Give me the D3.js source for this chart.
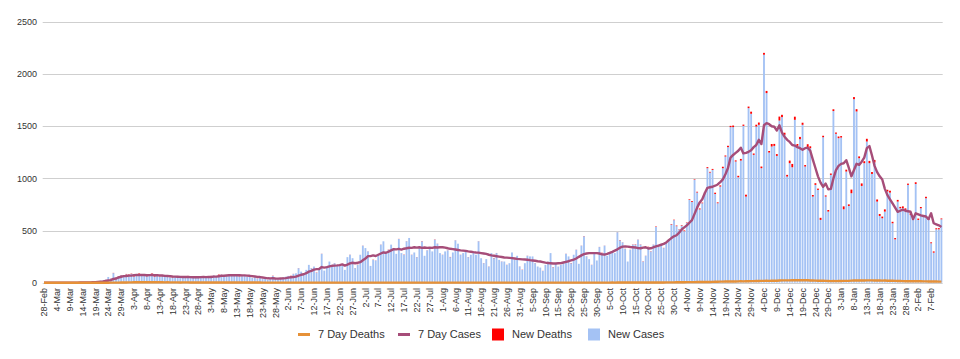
<!DOCTYPE html>
<html><head><meta charset="utf-8">
<script src="https://cdn.jsdelivr.net/npm/d3@7"></script>
<style>body{margin:0;background:#fff;} svg{display:block;font-family:"Liberation Sans",Arial,sans-serif;}</style>
</head><body><svg id="c" width="960" height="359"></svg>
<script>
const tickLabels = ["28-Feb","4-Mar","9-Mar","14-Mar","19-Mar","24-Mar","29-Mar","3-Apr","8-Apr","13-Apr","18-Apr","23-Apr","28-Apr","3-May","8-May","13-May","18-May","23-May","28-May","2-Jun","7-Jun","12-Jun","17-Jun","22-Jun","27-Jun","2-Jul","7-Jul","12-Jul","17-Jul","22-Jul","27-Jul","1-Aug","6-Aug","11-Aug","16-Aug","21-Aug","26-Aug","31-Aug","5-Sep","10-Sep","15-Sep","20-Sep","25-Sep","30-Sep","5-Oct","10-Oct","15-Oct","20-Oct","25-Oct","30-Oct","4-Nov","9-Nov","14-Nov","19-Nov","24-Nov","29-Nov","4-Dec","9-Dec","14-Dec","19-Dec","24-Dec","29-Dec","3-Jan","8-Jan","13-Jan","18-Jan","23-Jan","28-Jan","2-Feb","7-Feb"];
const yTicks = [0,500,1000,1500,2000,2500];

const newCases = [
0,0,0,0,1,0,1,0,1,0,
2,1,2,1,3,2,4,5,6,9,
10,14,18,22,30,55,40,92,48,60,
70,65,80,72,85,60,75,80,70,78,
62,72,85,58,65,60,62,55,70,50,
48,55,52,60,45,50,62,48,52,55,
45,50,60,48,58,62,70,58,75,80,
65,72,78,70,66,80,60,62,72,55,
60,45,52,40,48,35,42,26,42,65,
42,32,42,52,58,65,65,84,90,139,
106,74,123,171,139,155,97,139,277,116,
155,203,171,187,161,171,161,123,245,268,
235,139,171,268,355,332,300,161,219,213,
268,365,397,290,316,365,332,277,419,284,
268,397,429,268,290,245,348,397,258,310,
323,300,413,374,284,268,300,310,245,290,
406,374,268,284,300,245,268,290,268,397,
235,187,226,155,284,235,284,219,203,203,
171,187,290,219,258,155,123,187,258,252,
252,187,155,145,113,171,203,284,148,187,
155,171,187,277,252,187,268,316,181,355,
445,252,226,171,290,213,342,284,355,258,
284,290,284,484,406,387,323,203,316,365,
365,413,365,203,258,342,300,365,535,348,
365,332,381,413,558,600,542,510,548,494,
574,794,774,987,865,703,762,858,1098,1056,
1082,851,762,922,1098,1210,1300,1492,1492,1162,
1011,1171,1504,826,1674,1620,1226,1498,1514,1098,
2186,1818,1248,1306,1312,1216,1555,1588,1418,1018,
1146,1107,1562,1312,1376,1514,1114,1300,1290,826,
938,890,602,1395,826,682,1034,1646,1428,1386,
1392,704,1066,736,858,1760,1642,1194,928,1146,
1354,1146,1043,1152,778,640,618,682,874,864,
570,416,778,714,714,698,938,650,602,947,
602,714,634,810,602,378,288,512,512,608];

const newDeaths = [
0,0,0,0,0,0,0,0,0,0,
0,0,0,0,0,0,0,0,0,0,
0,0,0,0,1,0,1,2,1,3,
2,3,4,6,3,5,4,8,3,5,
6,2,4,5,3,4,2,5,3,2,
4,2,3,1,4,2,3,2,1,3,
2,2,1,4,2,3,1,2,4,2,
3,1,2,5,1,2,3,1,2,1,
4,1,0,2,1,0,1,0,1,2,
0,1,0,1,0,0,2,1,0,1,
0,1,0,0,1,0,2,0,1,0,
1,0,0,1,0,2,1,0,0,1,
0,1,2,0,1,0,1,0,2,1,
0,1,0,1,2,0,1,0,1,0,
2,1,0,1,0,1,0,2,0,1,
1,0,2,1,0,1,0,1,2,0,
1,0,1,0,2,1,0,1,0,1,
0,1,0,1,0,2,1,0,1,0,
1,0,0,1,0,1,2,0,1,0,
0,1,0,0,1,0,1,0,2,1,
0,1,0,1,0,2,0,1,0,1,
2,1,0,1,2,0,1,3,1,0,
1,2,0,1,3,1,2,0,1,2,
3,1,2,2,1,3,2,1,4,2,
3,2,4,3,5,4,6,3,5,7,
4,6,8,5,7,9,6,8,10,7,
9,12,8,11,14,10,13,12,15,11,
14,16,12,18,15,20,13,17,22,16,
18,21,15,24,19,17,38,22,20,16,
25,32,30,18,22,20,14,28,18,15,
16,12,20,14,11,15,13,17,12,16,
14,28,18,15,35,20,22,17,24,19,
26,22,18,25,20,19,16,21,17,18,
14,12,16,13,18,15,12,14,11,16,
13,12,10,14,11,9,12,10,11,8];

const sevenDayCases = [
0,0,0,0,0.1,0.1,0.3,0.3,0.4,0.4,
0.7,0.7,1,1,1.3,1.6,2,2.6,3.3,4.6,
5.9,7.9,10,12,16,21,25,36,40,50,
57,63,64,68,68,73,75,74,75,74,
72,73,75,72,71,70,69,65,64,63,
59,58,57,56,54,54,55,53,52,53,
52,53,54,53,54,55,58,58,62,65,
67,69,71,72,71,73,72,70,70,68,
66,63,60,56,54,50,46,42,41,42,
40,39,40,41,44,49,52,55,58,68,
76,81,91,106,113,125,130,131,150,145,
150,157,162,164,166,169,176,164,174,186,
191,187,191,197,215,232,255,255,262,256,
268,280,290,287,298,310,322,320,325,318,
326,330,335,334,340,336,340,334,338,334,
335,334,340,337,340,340,336,330,325,322,
318,314,310,308,305,300,297,293,290,288,
284,280,276,268,262,258,254,250,246,242,
240,238,236,232,228,226,224,222,220,216,
213,210,206,203,198,192,188,186,184,184,
186,188,194,200,206,214,222,232,248,262,
274,280,284,284,284,284,280,272,270,276,
286,296,308,320,336,346,348,346,342,340,
338,332,330,336,340,328,330,340,348,356,
364,372,386,408,428,445,455,480,510,530,
550,575,600,660,720,770,800,860,910,915,
920,930,942,965,990,1040,1100,1200,1225,1245,
1265,1295,1240,1245,1255,1270,1300,1320,1370,1330,
1510,1530,1520,1500,1495,1460,1510,1440,1400,1370,
1350,1320,1315,1300,1290,1275,1290,1295,1265,1180,
1100,1020,960,920,950,895,900,1000,1080,1120,
1140,1145,1175,1100,1020,1080,1140,1130,1160,1200,
1290,1310,1220,1120,1060,1020,990,900,840,800,
760,720,680,690,700,690,685,680,610,665,
655,645,640,635,610,665,570,560,550,535];

const sevenDayDeaths = [
0,0,0,0,0,0,0,0,0,0,
0,0,0,0,0,0,0,0,0,0,
0,0,0,0,0.1,0.1,0.3,0.6,0.7,1.1,
1.4,1.9,2.4,3.1,3.1,3.7,3.9,4.7,4.7,4.9,
4.7,4.4,4.6,4.3,4.1,3.7,3.7,3.6,3.7,3.3,
3.3,3.0,3.1,2.6,2.7,2.7,2.7,2.4,2.4,2.4,
2.3,2.3,2.0,2.1,2.1,2.4,2.1,2.0,2.4,2.3,
2.4,2.0,2.1,2.6,2.3,2.3,2.4,2.1,2.3,2.3,
2.1,1.9,1.6,1.7,1.3,1.1,1.0,1.0,0.9,0.9,
0.7,0.7,0.6,0.7,0.6,0.6,0.6,0.7,0.6,0.7,
0.7,0.7,0.6,0.4,0.6,0.4,0.6,0.6,0.6,0.4,
0.6,0.6,0.4,0.6,0.4,0.7,0.7,0.6,0.4,0.7,
0.6,0.7,0.9,0.7,0.7,0.6,0.7,0.6,0.9,0.9,
0.7,0.7,0.6,0.7,0.9,0.7,0.7,0.7,0.7,0.6,
0.7,0.7,0.6,0.7,0.6,0.7,0.6,0.7,0.6,0.7,
0.7,0.6,0.7,0.7,0.6,0.7,0.6,0.7,0.9,0.7,
0.7,0.6,0.7,0.6,0.7,0.6,0.6,0.7,0.6,0.7,
0.6,0.6,0.6,0.6,0.6,0.7,0.7,0.6,0.6,0.6,
0.7,0.6,0.6,0.6,0.6,0.6,0.7,0.6,0.7,0.6,
0.6,0.6,0.6,0.4,0.6,0.4,0.4,0.6,0.7,0.7,
0.7,0.7,0.7,0.7,0.6,0.7,0.6,0.7,0.6,0.7,
0.9,1.0,0.9,0.9,1.1,1.0,1.0,1.1,1.0,1.1,
1.1,1.3,1.1,1.3,1.4,1.3,1.3,1.3,1.3,1.4,
1.7,1.6,1.9,1.9,1.9,2.0,2.1,2.0,2.4,2.3,
2.4,2.6,2.8,3.0,3.4,3.6,4.0,4.3,4.6,5.0,
5.1,5.6,5.9,5.6,6.0,6.6,6.4,7.0,7.6,7.4,
7.9,8.9,9.0,9.9,10.6,11.0,11.6,11.4,12.4,12.1,
12.9,13.4,13.1,14.0,14.4,15.1,15.4,15.9,16.6,17.1,
17.3,18.0,17.9,19.0,19.1,18.6,21.7,22.3,22.4,21.9,
22.4,24.6,23.3,23.9,24.2,23.9,23.0,23.4,21.4,21.0,
20.1,19.4,19.6,18.4,17.1,16.1,15.4,15.6,15.1,15.9,
16.1,17.4,17.9,17.7,20.1,21.4,21.7,22.1,21.6,21.8,
22.6,22.0,22.4,20.5,21.3,21.4,20.3,20.5,19.4,19.1,
18.4,17.3,16.7,16.0,15.4,14.3,14.1,14.3,13.4,14.0,
13.9,13.4,12.7,12.4,12.0,11.4,11.9,11.3,10.4,10.3];

const startDay = new Date(2020, 1, 28);
const fmt = d3.timeFormat("%-d-%b");
const categories = d3.range(newCases.length).map(i => fmt(d3.timeDay.offset(startDay, i)));

const svg = d3.select("#c");
const x = d3.scaleBand().domain(categories).range([42.7, 942.7]).paddingInner(0.28).paddingOuter(0.14);
const y = d3.scaleLinear().domain([0, 2500]).range([282.7, 22]);
const cx = d => x(d) + x.bandwidth() / 2;

// gridlines
svg.append("g").selectAll("line").data(yTicks).join("line")
  .attr("x1", 42.7).attr("x2", 942.7)
  .attr("y1", d => Math.round(y(d)) + 0.5).attr("y2", d => Math.round(y(d)) + 0.5)
  .attr("stroke", "#cfcfcf").attr("stroke-width", 1);

// y labels
svg.append("g").selectAll("text").data(yTicks).join("text")
  .attr("x", 37).attr("y", d => y(d)).attr("dy", "0.35em")
  .attr("text-anchor", "end").attr("font-size", 9).attr("fill", "#333")
  .text(d => d);

// bars
const gb = svg.append("g");
gb.selectAll("rect.c").data(categories).join("rect").attr("class", "c")
  .attr("x", d => x(d)).attr("width", x.bandwidth())
  .attr("y", (d, i) => y(newCases[i])).attr("height", (d, i) => y(0) - y(newCases[i]))
  .attr("fill", "#a4c2f4");
gb.selectAll("rect.d").data(categories).join("rect").attr("class", "d")
  .attr("x", d => x(d)).attr("width", x.bandwidth())
  .attr("y", (d, i) => y(newCases[i] + newDeaths[i])).attr("height", (d, i) => y(newCases[i]) - y(newCases[i] + newDeaths[i]))
  .attr("fill", "#ff0000");

// lines
const line = arr => d3.line().x((d, i) => cx(categories[i])).y(d => y(d)).curve(d3.curveLinear)(arr);
svg.append("path").attr("d", line(sevenDayCases)).attr("fill", "none")
  .attr("stroke", "#a64d79").attr("stroke-width", 2.4).attr("stroke-linejoin", "round");
svg.append("path").attr("d", line(sevenDayDeaths)).attr("fill", "none")
  .attr("stroke", "#e69138").attr("stroke-width", 2.4).attr("stroke-linejoin", "round");

// x axis labels
svg.append("g").selectAll("text").data(tickLabels).join("text")
  .attr("transform", d => `translate(${cx(d)},288) rotate(-90)`)
  .attr("dy", "0.35em").attr("text-anchor", "end")
  .attr("font-size", 9).attr("fill", "#333").text(d => d);

// legend
const leg = svg.append("g").attr("font-size", 11).attr("fill", "#333");
const items = [
  {label: "7 Day Deaths", type: "line", color: "#e69138", sx: 298, tx: 318},
  {label: "7 Day Cases", type: "line", color: "#a64d79", sx: 398, tx: 418},
  {label: "New Deaths", type: "rect", color: "#ff0000", sx: 492, tx: 512},
  {label: "New Cases", type: "rect", color: "#a4c2f4", sx: 588, tx: 608}
];
items.forEach(it => {
  if (it.type === "line") {
    leg.append("rect").attr("x", it.sx).attr("y", 333).attr("width", 12).attr("height", 3).attr("fill", it.color);
  } else {
    leg.append("rect").attr("x", it.sx).attr("y", 328.5).attr("width", 12).attr("height", 12).attr("fill", it.color);
  }
  leg.append("text").attr("x", it.tx).attr("y", 334.5).attr("dy", "0.35em").text(it.label);
});
</script></body></html>
